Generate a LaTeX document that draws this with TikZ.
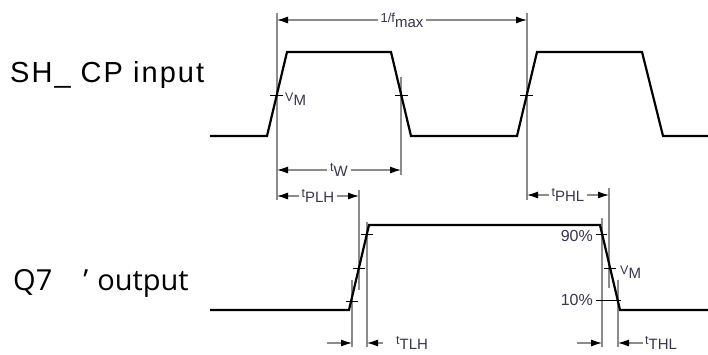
\documentclass[tikz,border=0pt]{standalone}
\usepackage{fontspec}
\setmainfont{Liberation Sans}
\newfontfamily\osans{Open Sans}
\usetikzlibrary{arrows.meta}
\definecolor{labelc}{RGB}{55,55,75}
\definecolor{refc}{RGB}{140,140,140}
\newcommand\tsub[2]{{\fontsize{12.5}{12}\selectfont #1}\raisebox{-4.5pt}{#2}}
\begin{document}
\begin{tikzpicture}[x=1pt,y=-1pt,
  wave/.style={line width=2.2pt, draw=black, line join=miter},
  refl/.style={line width=1.1pt, draw=refc},
  tickl/.style={line width=0.9pt, draw=black},
  dimarr/.style={refl, {Latex[length=11pt,width=7pt,color=black]}-{Latex[length=11pt,width=7pt,color=black]}},
  onearr/.style={refl, -{Latex[length=11pt,width=7pt,color=black]}},
  lbl/.style={font=\fontsize{15}{15}\selectfont, text=labelc, inner sep=3pt, fill=white},
  pct/.style={font=\fontsize{16}{16}\selectfont, text=labelc, inner sep=1pt},
  side/.style={inner sep=0pt, anchor=base west}
]
\useasboundingbox (0,0) rectangle (708,354);
\fill[white] (0,0) rectangle (708,354);

% side labels
\node[side, font=\fontsize{29}{29}\selectfont\addfontfeature{LetterSpace=7}] (inlbl) at (10,82) {SH\_ CP input};
\node[side, font=\osans\fontsize{29}{29}\selectfont] (outlbl) at (13,290) {Q7\hspace{31pt}’\hspace{9pt}output};

% reference lines (input)
\coordinate (r1t) at (277,13);  \coordinate (r1b) at (277,200);
\coordinate (r2t) at (401,77);  \coordinate (r2b) at (401,175);
\coordinate (r3t) at (527,13);  \coordinate (r3b) at (527,200);
% reference lines (output)
\coordinate (r4t) at (359,190); \coordinate (r4b) at (359,290);
\coordinate (r5t) at (367,222); \coordinate (r5b) at (367,347);
\coordinate (r6t) at (352,280); \coordinate (r6b) at (352,347);
\coordinate (r7t) at (602,218); \coordinate (r7b) at (602,347);
\coordinate (r8t) at (609,188); \coordinate (r8b) at (609,288);
\coordinate (r9t) at (618,280); \coordinate (r9b) at (618,347);
\foreach \r in {1,...,9} {\draw[refl] (r\r t) -- (r\r b);}

% waveforms
\draw[wave] (210,136) -- (267,136) -- (287,52) -- (391,52) -- (411,136) -- (517,136) -- (537,52) -- (642,52) -- (663,136) -- (708,136);
\draw[wave] (210,310) -- (349,310) -- (369,225) -- (600,225) -- (620,310) -- (708,310);

% ticks
\draw[tickl] (270,95) -- (283,95);
\draw[tickl] (395,95) -- (408,95);
\draw[tickl] (520,95) -- (533,95);
\draw[tickl] (346,301) -- (358,301);
\draw[tickl] (353,268) -- (365,268);
\draw[tickl] (361,234) -- (373,234);
\draw[tickl] (596,234) -- (607,234);
\draw[tickl] (604,268) -- (616,268);
\draw[tickl] (596,300) -- (621,300);

% dimension arrows
\coordinate (fa) at (277,20); \coordinate (fb) at (527,20);
\draw[dimarr] (fa) -- node[lbl] (flbl) {{\fontsize{13}{13}\selectfont 1/f}\raisebox{-5pt}{max}} (fb);
\coordinate (wa) at (277,170); \coordinate (wb) at (401,170);
\draw[dimarr] (wa) -- node[lbl] (wlbl) {\tsub{t}{W}} (wb);
\coordinate (pa) at (277,196); \coordinate (pb) at (359,196);
\draw[dimarr] (pa) -- node[lbl] (plhlbl) {\tsub{t}{PLH}} (pb);
\coordinate (qa) at (527,195); \coordinate (qb) at (609,195);
\draw[dimarr] (qa) -- node[lbl] (phllbl) {\tsub{t}{PHL}} (qb);

\coordinate (ta1) at (327,343); \coordinate (ta2) at (352,343);
\coordinate (tb1) at (383,343); \coordinate (tb2) at (367,343);
\draw[onearr] (ta1) -- (ta2);
\draw[onearr] (tb1) -- (tb2);
\node[lbl, anchor=west, fill=none] (tlhlbl) at (393,343) {\tsub{t}{TLH}};

\coordinate (ua1) at (577,343); \coordinate (ua2) at (602,343);
\coordinate (ub1) at (643,343); \coordinate (ub2) at (618,343);
\draw[onearr] (ua1) -- (ua2);
\draw[onearr] (ub1) -- (ub2);
\node[lbl, anchor=west, fill=none] (thllbl) at (642,343) {\tsub{t}{THL}};

% level labels
\node[lbl, anchor=west, fill=none] (vm1) at (282,99) {\tsub{V}{M}};
\node[lbl, anchor=west, fill=none] (vm2) at (617,272) {\tsub{V}{M}};
\node[pct, anchor=east] (p90) at (594,236) {90\%};
\node[pct, anchor=east] (p10) at (594,300) {10\%};
\end{tikzpicture}
\end{document}
